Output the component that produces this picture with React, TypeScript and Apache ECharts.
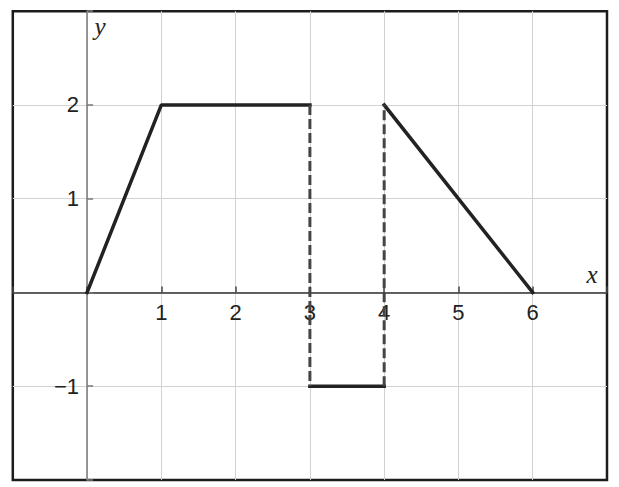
import React, { useEffect, useRef } from 'react'
import * as echarts from 'echarts'

// values
const xRange = [-1, 7]
const yRange = [-2, 3]
const xTickLabels = [1, 2, 3, 4, 5, 6]
const yTickLabels = [-1, 1, 2]
const solidParts = [
  [[0, 0], [1, 2], [3, 2]],
  [[3, -1], [4, -1]],
  [[4, 2], [6, 0]]
]
const dashedParts = [
  [[3, 2], [3, -1]],
  [[4, -1], [4, 2]]
]

const labelFont = 'Liberation Sans, Arial, sans-serif'
const nameFont = 'italic 25px "Liberation Serif", "DejaVu Serif", serif'

const W = 619
const H = 487
const gridLeft = 12.8
const gridTop = 11.2
const gridRight = 12
const gridBottom = 7
const plotW = W - gridLeft - gridRight
const plotH = H - gridTop - gridBottom
// move the axes from the grid edges onto the zero lines
const xAxisShift = -plotH * (0 - yRange[0]) / (yRange[1] - yRange[0])
const yAxisShift = -plotW * (0 - xRange[0]) / (xRange[1] - xRange[0])

export default function App() {
  const chartRef: any = useRef()

  useEffect(() => {
    const myChart = echarts.init(chartRef.current, null, { renderer: 'svg' })
    const option = {
      animation: false,
      grid: {
        show: true,
        left: gridLeft,
        top: gridTop,
        right: gridRight,
        bottom: gridBottom,
        containLabel: false,
        outerBoundsMode: 'none',
        borderColor: '#1c1c1c',
        borderWidth: 2.5,
        backgroundColor: 'transparent'
      },
      xAxis: {
        type: 'value',
        min: xRange[0],
        max: xRange[1],
        interval: 1,
        position: 'bottom',
        offset: xAxisShift,
        axisLine: { onZero: false, lineStyle: { color: '#333', width: 1.5 } },
        axisTick: { inside: true, length: 6, lineStyle: { color: '#444', width: 1.5 } },
        axisLabel: {
          margin: 9,
          color: '#222',
          fontFamily: labelFont,
          fontSize: 22,
          formatter: (v: number) => (xTickLabels.includes(v) ? String(v) : '')
        },
        splitLine: { show: true, showMinLine: false, showMaxLine: false, lineStyle: { color: '#d2d2d2', width: 1 } }
      },
      yAxis: {
        type: 'value',
        min: yRange[0],
        max: yRange[1],
        interval: 1,
        position: 'left',
        offset: yAxisShift,
        axisLine: { onZero: false, lineStyle: { color: '#7a7a7a', width: 1.5 } },
        axisTick: { inside: true, length: 6, lineStyle: { color: '#7a7a7a', width: 1.5 } },
        axisLabel: {
          margin: 8,
          color: '#222',
          fontFamily: labelFont,
          fontSize: 22,
          formatter: (v: number) => (yTickLabels.includes(v) ? String(v).replace('-', '\u2212') : '')
        },
        splitLine: { show: true, showMinLine: false, showMaxLine: false, lineStyle: { color: '#d2d2d2', width: 1 } }
      },
      graphic: [
        { type: 'text', x: 100, y: 26, style: { text: 'y', font: nameFont, fill: '#222', align: 'center', verticalAlign: 'middle' } },
        { type: 'text', x: 592, y: 274, style: { text: 'x', font: nameFont, fill: '#222', align: 'center', verticalAlign: 'middle' } }
      ],
      series: [
        ...solidParts.map((part) => ({
          type: 'line',
          data: part,
          symbol: 'none',
          silent: true,
          lineStyle: { color: '#222', width: 3.5, cap: 'square' }
        })),
        ...dashedParts.map((part) => ({
          type: 'line',
          data: part,
          symbol: 'none',
          silent: true,
          lineStyle: { color: '#444', width: 3, type: [10, 4] }
        }))
      ]
    }
    myChart.setOption(option)
    return () => {
      myChart.dispose()
    }
  }, [])

  return (
    <div
      ref={chartRef}
      style={{ position: 'fixed', left: 0, top: 0, width: W + 'px', height: H + 'px', background: '#fff' }}
    />
  )
}
